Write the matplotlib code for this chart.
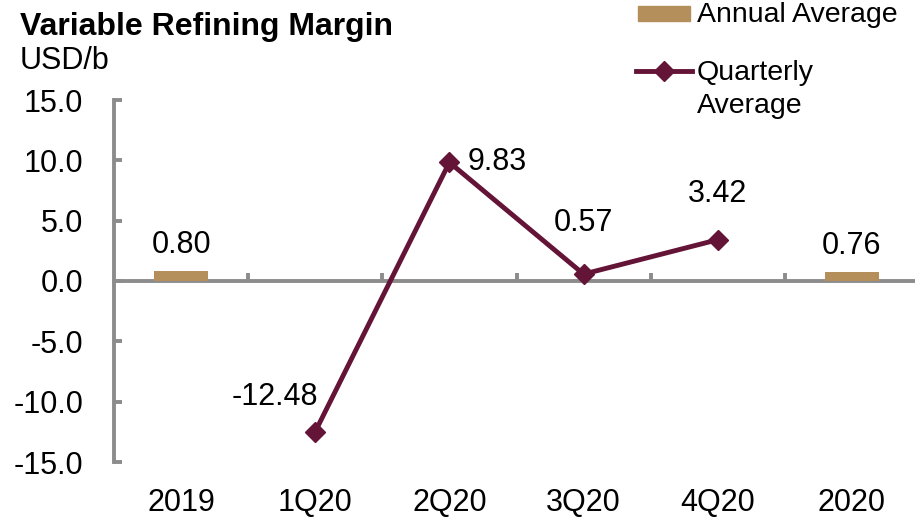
import matplotlib
matplotlib.use("Agg")
import matplotlib.pyplot as plt
from matplotlib.patches import Rectangle
from matplotlib.lines import Line2D

plt.rcParams['font.family'] = ['Liberation Sans', 'DejaVu Sans']

# Data
categories = ["2019", "1Q20", "2Q20", "3Q20", "4Q20", "2020"]
annual_pos = [0, 5]
annual_vals = [0.80, 0.76]
quarter_pos = [1, 2, 3, 4]
quarter_vals = [-12.48, 9.83, 0.57, 3.42]
yticks = [-15, -10, -5, 0, 5, 10, 15]

TAN = "#B58F5B"
MAROON = "#641436"
GRAY = "#8C8C8C"
FS = 22
LEG_FS = 20.5

W, H = 915, 517
fig = plt.figure(figsize=(W / 100, H / 100), dpi=100)
ax = fig.add_axes([114 / W, 1 - 462 / H, 805 / W, 362 / H])
ax.set_xlim(-0.5, 5.5)
ax.set_ylim(-15, 15)

# Annual average bars
ax.bar(annual_pos, annual_vals, width=0.4, color=TAN, zorder=2)
# Quarterly line
ax.plot(quarter_pos, quarter_vals, color=MAROON, lw=3.5, marker="D",
        markersize=10, zorder=3, clip_on=False)

# Spines: left axis, bottom axis through zero
for s in ["top", "right"]:
    ax.spines[s].set_visible(False)
ax.spines["left"].set_color(GRAY)
ax.spines["left"].set_linewidth(2.8)
ax.spines["bottom"].set_position(("data", 0))
ax.spines["bottom"].set_color(GRAY)
ax.spines["bottom"].set_linewidth(2.8)
ax.spines["bottom"].set_zorder(1)

ax.set_yticks(yticks)
ax.set_yticklabels([f"{v:.1f}" for v in yticks], fontsize=FS)
ax.tick_params(axis="y", direction="in", length=6, width=2.8, color=GRAY, pad=22)

# category boundary ticks on the zero line
ax.set_xticks([i + 0.5 for i in range(5)])
ax.set_xticklabels([])
ax.tick_params(axis="x", direction="in", length=6, width=2.8, color=GRAY)

# category labels along the bottom
sec = ax.secondary_xaxis(0)
sec.set_xticks(range(len(categories)))
sec.set_xticklabels(categories, fontsize=FS)
sec.tick_params(length=0, pad=19)
sec.spines["bottom"].set_visible(False)

# Value labels
for x, v in zip(annual_pos, annual_vals):
    ax.annotate(f"{v:.2f}", (x, v), xytext=(0, 13), textcoords="offset points",
                ha="center", va="baseline", fontsize=FS)
offsets = {1: (2, 19, "right", "baseline"), 2: (13, 0, "left", "center"),
           3: (0, 31, "center", "baseline"), 4: (0, 27, "center", "baseline")}
for x, v in zip(quarter_pos, quarter_vals):
    dx, dy, ha, va = offsets[x]
    ax.annotate(f"{v:.2f}", (x, v), xytext=(dx, dy), textcoords="offset points",
                ha=ha, va=va, fontsize=FS)

# Titles
fig.text(20 / W, 1 - 35 / H, "Variable Refining Margin", fontsize=23,
         fontweight="bold", ha="left", va="baseline")
fig.text(20 / W, 1 - 69 / H, "USD/b", fontsize=FS, ha="left", va="baseline")

# Legend
fig.patches.append(Rectangle((638 / W, 1 - 21 / H), 52 / W, 15 / H,
                             transform=fig.transFigure, color=TAN))
fig.text(697 / W, 1 - 22 / H, "Annual Average", fontsize=LEG_FS, ha="left", va="baseline")
fig.lines.append(Line2D([636 / W, 692 / W], [1 - 71 / H, 1 - 71 / H],
                        transform=fig.transFigure, color=MAROON, lw=3.5))
fig.lines.append(Line2D([664 / W], [1 - 71 / H], transform=fig.transFigure,
                        color=MAROON, marker="D", markersize=10, lw=0))
fig.text(697 / W, 1 - 80 / H, "Quarterly", fontsize=LEG_FS, ha="left", va="baseline")
fig.text(697 / W, 1 - 113 / H, "Average", fontsize=LEG_FS, ha="left", va="baseline")

fig.savefig("out.png", dpi=100)
